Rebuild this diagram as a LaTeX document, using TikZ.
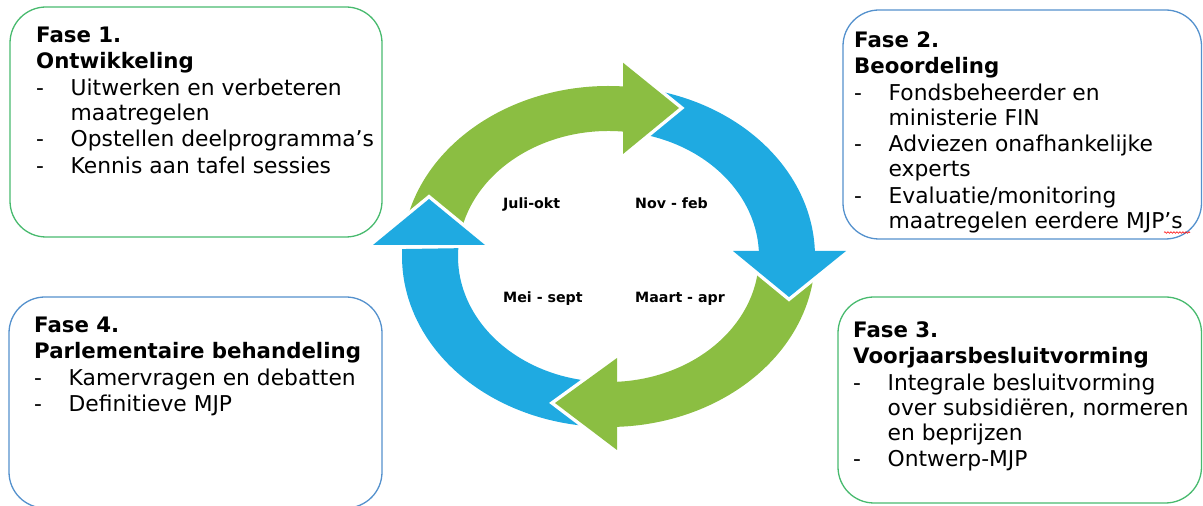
\documentclass[tikz,border=0pt]{standalone}
\usepackage{fontspec}
\setmainfont{DejaVu Sans}
\usetikzlibrary{decorations.pathmorphing}
\definecolor{arrgreen}{RGB}{139,190,66}
\definecolor{arrblue}{RGB}{31,170,225}
\definecolor{boxgreen}{RGB}{72,186,110}
\definecolor{boxblue}{RGB}{84,145,205}
\newcommand{\dashitem}[1]{\makebox[34.5pt][l]{-}#1}
\newcommand{\contitem}[1]{\makebox[34.5pt][l]{}#1}
\newcommand{\phtitle}[1]{{\fontsize{21.3}{25}\selectfont\bfseries #1}}
\begin{document}
\begin{tikzpicture}[x=1pt,y=1pt,
  box/.style={draw, line width=1.3pt, rounded corners=36pt, inner sep=0pt},
  phase/.style={anchor=north west, inner sep=0pt, align=left, font=\fontsize{21.8}{25}\selectfont},
  month/.style={anchor=base west, inner sep=0pt, font=\bfseries\fontsize{14.2}{17}\selectfont},
  headgap/.style={draw=white, line width=7pt, line join=miter},
  O/.style={x radius=206.5pt, y radius=170.5pt},
  I/.style={x radius=150.5pt, y radius=125.5pt}
]
\useasboundingbox (0,0) rectangle (1203,506);

% ---- cycle arrows ----
\begin{scope}[shift={(608.5,249.5)}]
  % bodies
  \fill[arrgreen] (171.57:206.5pt and 170.5pt) arc[start angle=171.57, end angle=84.5, O]
     -- (83:150.5pt and 125.5pt) arc[start angle=83, end angle=168.51, I] -- cycle;
  \fill[arrblue] (81.65:206.5pt and 170.5pt) arc[start angle=81.65, end angle=0.5, O]
     -- (1:150.5pt and 125.5pt) arc[start angle=1, end angle=78.50, I] -- cycle;
  \fill[arrgreen] (-4.04:206.5pt and 170.5pt) arc[start angle=-4.04, end angle=-89, O]
     -- (-88.2:150.5pt and 125.5pt) arc[start angle=-88.2, end angle=-5.49, I] -- cycle;
  \fill[arrblue] (267.78:206.5pt and 170.5pt) arc[start angle=267.78, end angle=177.5, O]
     -- (176.2:150.5pt and 125.5pt) arc[start angle=176.2, end angle=266.95, I] -- cycle;
  % heads
  \draw[headgap] (14.5,193.8) -- (70.5,148.5) -- (14.5,102.5);
  \fill[arrgreen] (14.5,193.8) -- (70.5,148.5) -- (14.5,102.5) -- cycle;
  \draw[headgap] (237.5,5.5) -- (180.5,-40.5) -- (124.5,5.5);
  \fill[arrblue] (237.5,5.5) -- (180.5,-40.5) -- (124.5,5.5) -- cycle;
  \draw[headgap] (8.5,-193.5) -- (-53.5,-146.5) -- (8.5,-101.5);
  \fill[arrgreen] (8.5,-193.5) -- (-53.5,-146.5) -- (8.5,-101.5) -- cycle;
  \draw[headgap] (-235.5,11.5) -- (-179.5,57.5) -- (-123.5,11.5);
  \fill[arrblue] (-235.5,11.5) -- (-179.5,57.5) -- (-123.5,11.5) -- cycle;
\end{scope}

% ---- month labels ----
\node[month] (m1) at (503,297) {Juli-okt};
\node[month] (m2) at (635,297) {Nov - feb};
\node[month] (m3) at (503,203.3) {Mei - sept};
\node[month] (m4) at (635,203) {Maart - apr};

% ---- boxes ----
\node[box, draw=boxgreen, minimum width=372pt, minimum height=230pt] (b1) at (196,384) {};
\node[box, draw=boxblue, minimum width=358.5pt, minimum height=229pt] (b2) at (1022.25,381.5) {};
\node[box, draw=boxgreen, minimum width=363.5pt, minimum height=206pt] (b3) at (1019.75,106) {};
\node[box, draw=boxblue, minimum width=373pt, minimum height=211pt] (b4) at (195.5,103.5) {};

% ---- box texts ----
\node[phase] (t1) at (36,484) {\rule{0pt}{20pt}\phtitle{Fase 1.}\\[1.5pt]
  \phtitle{Ontwikkeling}\\[1.5pt]
  \dashitem{Uitwerken en verbeteren}\\
  \contitem{maatregelen}\\[1.5pt]
  \dashitem{Opstellen deelprogramma’s}\\[1.5pt]
  \dashitem{Kennis aan tafel sessies}};
\node[phase] (t2) at (854,479) {\rule{0pt}{20pt}\phtitle{Fase 2.}\\[1.5pt]
  \phtitle{Beoordeling}\\[1.5pt]
  \dashitem{Fondsbeheerder en}\\
  \contitem{ministerie FIN}\\[1.5pt]
  \dashitem{Adviezen onafhankelijke}\\
  \contitem{experts}\\[1.5pt]
  \dashitem{Evaluatie/monitoring}\\
  \contitem{maatregelen eerdere MJP’s}};
\node[phase] (t3) at (853,189) {\rule{0pt}{20pt}\phtitle{Fase 3.}\\[1.5pt]
  \phtitle{Voorjaarsbesluitvorming}\\[1.5pt]
  \dashitem{Integrale besluitvorming}\\
  \contitem{over subsidiëren, normeren}\\
  \contitem{en beprijzen}\\[1.5pt]
  \dashitem{Ontwerp-MJP}};
\node[phase] (t4) at (34,194) {\rule{0pt}{20pt}\phtitle{Fase 4.}\\[1.5pt]
  \phtitle{Parlementaire behandeling}\\[1.5pt]
  \dashitem{Kamervragen en debatten}\\[1.5pt]
  \dashitem{Definitieve MJP}};

% spell-check squiggle under MJP's
\draw[red, line width=0.6pt, decorate, decoration={snake, amplitude=0.8pt, segment length=3pt}]
  (1164,273.5) -- (1190,273.5);
\end{tikzpicture}
\end{document}
